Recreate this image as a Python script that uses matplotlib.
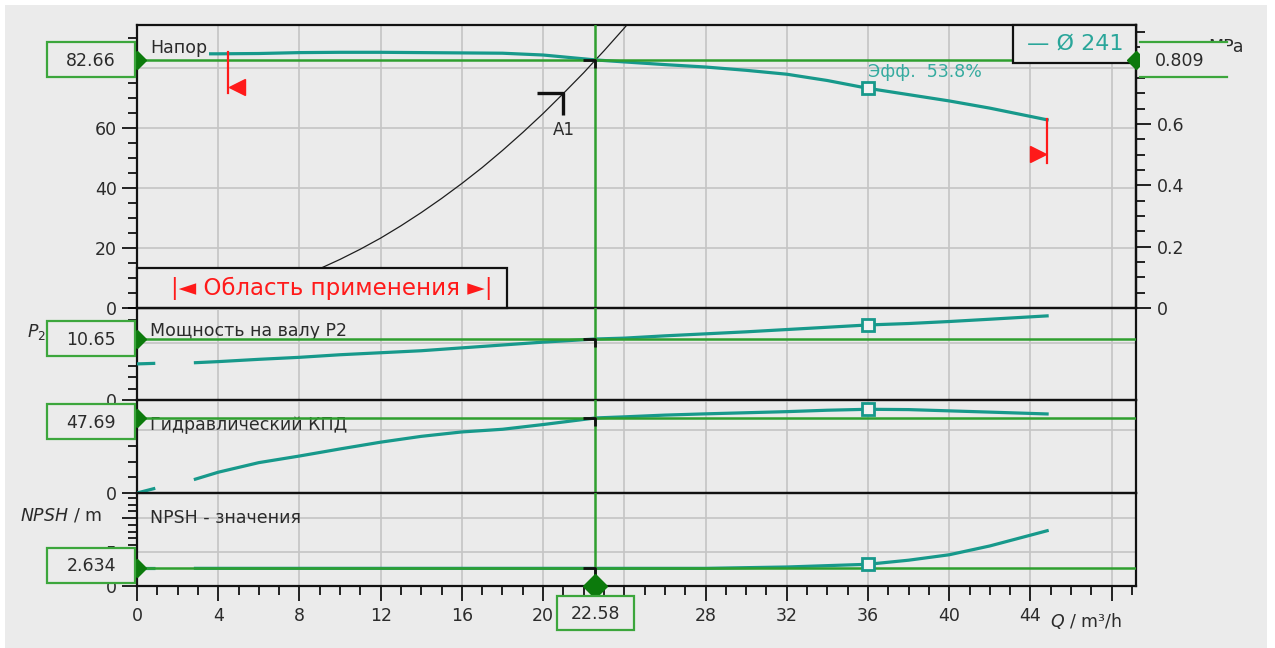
import matplotlib
matplotlib.use("Agg")
import matplotlib.pyplot as plt
import numpy as np
from matplotlib.patches import Rectangle
from matplotlib.lines import Line2D
from matplotlib.path import Path
from matplotlib.transforms import IdentityTransform
from matplotlib.ticker import MultipleLocator

# ---- data ----
q = [0, 0.9, 2.8, 4, 6, 8, 10, 12, 14, 16, 18, 20, 22.58, 24, 26, 28, 30, 32, 34, 36, 38, 40, 42, 44.9]
head = [84.6, 84.6, 84.7, 84.7, 84.8, 85.1, 85.2, 85.2, 85.1, 85.0, 84.9, 84.3, 82.66, 82.0,
        81.1, 80.3, 79.2, 77.9, 75.8, 73.2, 71.1, 69.0, 66.6, 62.6]
power = [6.3, 6.4, 6.5, 6.7, 7.1, 7.45, 7.9, 8.25, 8.6, 9.1, 9.6, 10.1, 10.65, 10.8,
         11.2, 11.55, 11.9, 12.3, 12.7, 13.1, 13.35, 13.7, 14.1, 14.7]
eff = [0, 3.0, 8.5, 13.2, 19.3, 23.5, 28.0, 32.3, 36.0, 38.8, 40.5, 43.5, 47.69, 48.4,
       49.5, 50.3, 51.0, 51.7, 52.6, 53.2, 53.0, 52.2, 51.4, 50.2]
npsh = [2.6, 2.6, 2.6, 2.6, 2.6, 2.6, 2.6, 2.6, 2.6, 2.6, 2.6, 2.6, 2.6, 2.6,
        2.6, 2.6, 2.7, 2.8, 3.0, 3.2, 3.8, 4.6, 5.9, 8.2]

# system curve
sys_q = [0, 4, 8, 9, 10, 11, 12, 13, 14, 15, 16, 17, 18, 19, 20, 21, 22, 22.58, 23, 24, 25]
sys_h = [0, 2.6, 10.4, 13.1, 16.2, 19.6, 23.3, 27.4, 31.8, 36.5, 41.5, 46.8, 52.5, 58.5,
         64.8, 71.5, 78.4, 82.66, 85.7, 93.3, 101.3]

duty_q = 22.58
duty_vals = [82.66, 10.65, 47.69, 2.634]
duty_labels = ["82.66", "10.65", "47.69", "2.634"]
duty_mpa = "0.809"
mpa_per_m = 0.809 / 82.66
marker_q = 36
range_lo, range_hi = 4.48, 44.8
a1_q, a1_h = 21.0, 71.6

panel_names = ["Напор", "Мощность на валу P2", "Гидравлический КПД", "NPSH - значения"]
y_ticks = [[0, 20, 40, 60, 80], [0, 10], [0, 40], [0, 5, 10]]
y_tick_labels = [["0", "20", "40", "60", ""], ["0", ""], ["0", ""], ["0", "5", ""]]
y_minor = [5, 2, 10, 1]
y_max = [94.3, 16.06, 59.1, 13.7]
x_ticks = list(range(0, 49, 4))
x_tick_labels = ["0", "4", "8", "12", "16", "20", "24", "28", "32", "36", "40", "44", ""]
mpa_ticks = [0, 0.2, 0.4, 0.6, 0.8]
mpa_tick_labels = ["0", "0.2", "0.4", "0.6", ""]

BG = "#ebebeb"
TEAL = "#17998b"
GREEN = "#2f9f2f"
DGREEN = "#0c7a0c"
BOXG = "#3ca63c"
RED = "#ff1a1a"
TXT = "#2b2b2b"
GRID = "#c4c4c4"

plt.rcParams["font.family"] = ["DejaVu Sans"]

W, H = 1275, 648
fig = plt.figure(figsize=(W / 100, H / 100), dpi=100, facecolor="white")
fig.add_artist(Rectangle((5, 0), 1262, 643, transform=IdentityTransform(),
                         fc=BG, ec="none", zorder=-5))

px_left, px_right = 137, 1136
edges = [25, 308, 400, 493, 586]
axes = []
for i in range(4):
    top, bot = edges[i], edges[i + 1]
    ax = fig.add_axes([px_left / W, 1 - bot / H, (px_right - px_left) / W, (bot - top) / H])
    ax.set_facecolor("none")
    ax.set_xlim(0, 49.2)
    ax.set_ylim(0, y_max[i])
    for s in ax.spines.values():
        s.set_linewidth(1.6)
        s.set_color("#111111")
    ax.set_axisbelow(True)
    ax.grid(True, which="major", color=GRID, lw=1.2)
    ax.set_xticks(x_ticks)
    ax.xaxis.set_minor_locator(MultipleLocator(1))
    ax.set_yticks(y_ticks[i], y_tick_labels[i])
    ax.yaxis.set_minor_locator(MultipleLocator(y_minor[i]))
    ax.tick_params(axis="y", which="major", direction="out", length=10.8, width=1.2,
                   labelsize=12.5, labelcolor=TXT, pad=3.5, right=False)
    ax.tick_params(axis="y", which="minor", direction="out", length=6.5, width=1.2, right=False)
    if i < 3:
        ax.tick_params(axis="x", which="both", bottom=False, labelbottom=False)
    else:
        ax.set_xticklabels(x_tick_labels)
        ax.tick_params(axis="x", which="major", direction="out", length=10.8, width=1.2,
                       labelsize=12.5, labelcolor=TXT, pad=4.5)
        ax.tick_params(axis="x", which="minor", direction="out", length=6.5, width=1.2)
    axes.append(ax)

ax_h, ax_p, ax_e, ax_n = axes

# pump curves, operating point lines and markers
hook = Path([(-1.4, 0), (0, 0), (0, -0.9)], [Path.MOVETO, Path.LINETO, Path.LINETO])
iq = q.index(marker_q)
for i, (ax, vals, dval) in enumerate(zip(axes, [head, power, eff, npsh], duty_vals)):
    if i > 0:
        ax.plot(q[:2], vals[:2], color=TEAL, lw=2.3, zorder=3, solid_capstyle="butt")
    ax.plot(q[2:], vals[2:], color=TEAL, lw=2.3, zorder=3, solid_capstyle="butt")
    ax.plot([marker_q], [vals[iq]], "s", ms=8, mfc="#f2f2f2", mec=TEAL, mew=2, zorder=6)
    ax.axhline(dval, color=GREEN, lw=1.8, zorder=4)
    ax.axvline(duty_q, color=GREEN, lw=1.8, zorder=4)
    ax.plot([duty_q], [dval], marker=hook, ms=17, mew=2, color="#111111",
            fillstyle="none", ls="none", zorder=7)
    ax.plot([0], [dval], "D", ms=9, color=DGREEN, clip_on=False, zorder=10)

ax_h.plot([ax_h.get_xlim()[1]], [duty_vals[0]], "D", ms=9, color=DGREEN, clip_on=False, zorder=10)
ax_n.plot([duty_q], [0], "D", ms=12, color=DGREEN, clip_on=False, zorder=10)

# panel labels
lab_y = [0.919, 0.75, 0.73, 0.73]
for i, (ax, name) in enumerate(zip(axes, panel_names)):
    kw = {}
    if i == 0:
        kw["bbox"] = dict(boxstyle="square,pad=0.08", fc=BG, ec="none")
    ax.text(0.013, lab_y[i], name, transform=ax.transAxes, ha="left", va="center",
            fontsize=12.5, color=TXT, zorder=3.5, **kw)

# system curve and A1
ax_h.plot(sys_q, sys_h, color="#1e1e1e", lw=0.9, zorder=2)
a1_hook = Path([(-1, 0), (0, 0), (0, -0.85)], [Path.MOVETO, Path.LINETO, Path.LINETO])
ax_h.plot([a1_q], [a1_h], marker=a1_hook, ms=37, mew=2.4, color="#111111",
          fillstyle="none", ls="none", zorder=7)
ax_h.text(a1_q, a1_h - 12.3, "A1", ha="center", va="center", fontsize=12, color=TXT, zorder=7)

# operating range marks
h_lo = np.interp(range_lo, q, head)
h_hi = np.interp(range_hi, q, head)
ax_h.plot([range_lo, range_lo], [h_lo + 0.6, h_lo - 13.2], color=RED, lw=1.6, zorder=5)
ax_h.plot([range_lo + 0.45], [h_lo - 11.2], "<", ms=11, color=RED, zorder=5)
ax_h.plot([range_hi, range_hi], [h_hi + 0.1, h_hi - 14.4], color=RED, lw=1.6, zorder=5)
ax_h.plot([range_hi - 0.45], [h_hi - 11.5], ">", ms=11, color=RED, zorder=5)

ax_h.add_patch(Rectangle((0, 0), 0.370, 0.141, transform=ax_h.transAxes, fc=BG, ec="#111111",
                         lw=1.6, zorder=8, clip_on=False))
ax_h.text(0.195, 0.0707, "|◄ Область применения ►|", transform=ax_h.transAxes,
          ha="center", va="center", fontsize=16.5, color=RED, zorder=9)

# legend box and efficiency note
ax_h.add_patch(Rectangle((0.877, 0.866), 0.123, 0.134, transform=ax_h.transAxes, fc=BG,
                         ec="#111111", lw=1.6, zorder=8, clip_on=False))
ax_h.text(0.939, 0.933, "— Ø 241", transform=ax_h.transAxes, ha="center", va="center",
          fontsize=16, color="#2aa69a", zorder=9)
ax_h.text(0.732, 0.834, "Эфф.  53.8%", transform=ax_h.transAxes, ha="left", va="center",
          fontsize=12.5, color="#35ab9f", zorder=9)

# right MPa axis
sec = ax_h.secondary_yaxis("right", functions=(lambda h: h * mpa_per_m, lambda p: p / mpa_per_m))
sec.set_yticks(mpa_ticks, mpa_tick_labels)
sec.yaxis.set_minor_locator(MultipleLocator(0.05))
sec.tick_params(which="major", direction="out", length=10.8, width=1.2, labelsize=12.5,
                labelcolor=TXT, pad=4)
sec.tick_params(which="minor", direction="out", length=6.5, width=1.2)
sec.spines["right"].set_linewidth(1.6)

# axis titles (partly hidden behind the value boxes, as in the original)
ident = IdentityTransform()
fig.text(75, H - 49, "H / m", transform=ident, ha="center", va="center", fontsize=12.5,
         style="italic", color=TXT, zorder=1)
fig.text(1244, H - 47, "MPa", transform=ident, ha="right", va="center", fontsize=12.5,
         color=TXT, zorder=1)
fig.text(27, H - 331, r"$P_2$ / kW", transform=ident, ha="left", va="center", fontsize=12.5,
         color=TXT, zorder=1)
fig.text(20, H - 515, r"$NPSH$ / m", transform=ident, ha="left", va="center", fontsize=12.5,
         color=TXT, zorder=1)
fig.text(1050, H - 621, r"$Q$ / m³/h", transform=ident, ha="left", va="center", fontsize=12.5,
         color=TXT, zorder=1)

# value boxes (pixel nudges follow the reference placement)
box_dy = [0, 0, -4, 3]
x_box_r = px_left - 2
for ax, dval, lab, dy in zip(axes, duty_vals, duty_labels, box_dy):
    y = ax.transData.transform((0, dval))[1] + dy
    fig.add_artist(Rectangle((x_box_r - 88, y - 17.5), 88, 35, transform=ident, fc=BG,
                             ec=BOXG, lw=1.6, zorder=2))
    fig.text(x_box_r - 44, y - 1, lab, transform=ident, ha="center", va="center",
             fontsize=12.5, color=TXT, zorder=3)

y_mpa = ax_h.transData.transform((0, duty_vals[0]))[1]
fig.add_artist(Rectangle((1140, y_mpa - 17.5), 87, 35, transform=ident, fc=BG, ec="none", zorder=2))
for yy in (y_mpa + 17.5, y_mpa - 17.5):
    fig.add_artist(Line2D([1140, 1227], [yy, yy], transform=ident, color=BOXG, lw=1.6, zorder=2.5))
fig.text(1180, y_mpa - 1, duty_mpa, transform=ident, ha="center", va="center",
         fontsize=12.5, color=TXT, zorder=3)

x_duty = ax_n.transData.transform((duty_q, 0))[0]
fig.add_artist(Rectangle((x_duty - 38.5, H - 630), 77, 34, transform=ident, fc=BG,
                         ec=BOXG, lw=1.6, zorder=2))
fig.text(x_duty, H - 614, "22.58", transform=ident, ha="center", va="center",
         fontsize=12.5, color=TXT, zorder=3)

fig.savefig("out.png", dpi=100, facecolor=fig.get_facecolor())
